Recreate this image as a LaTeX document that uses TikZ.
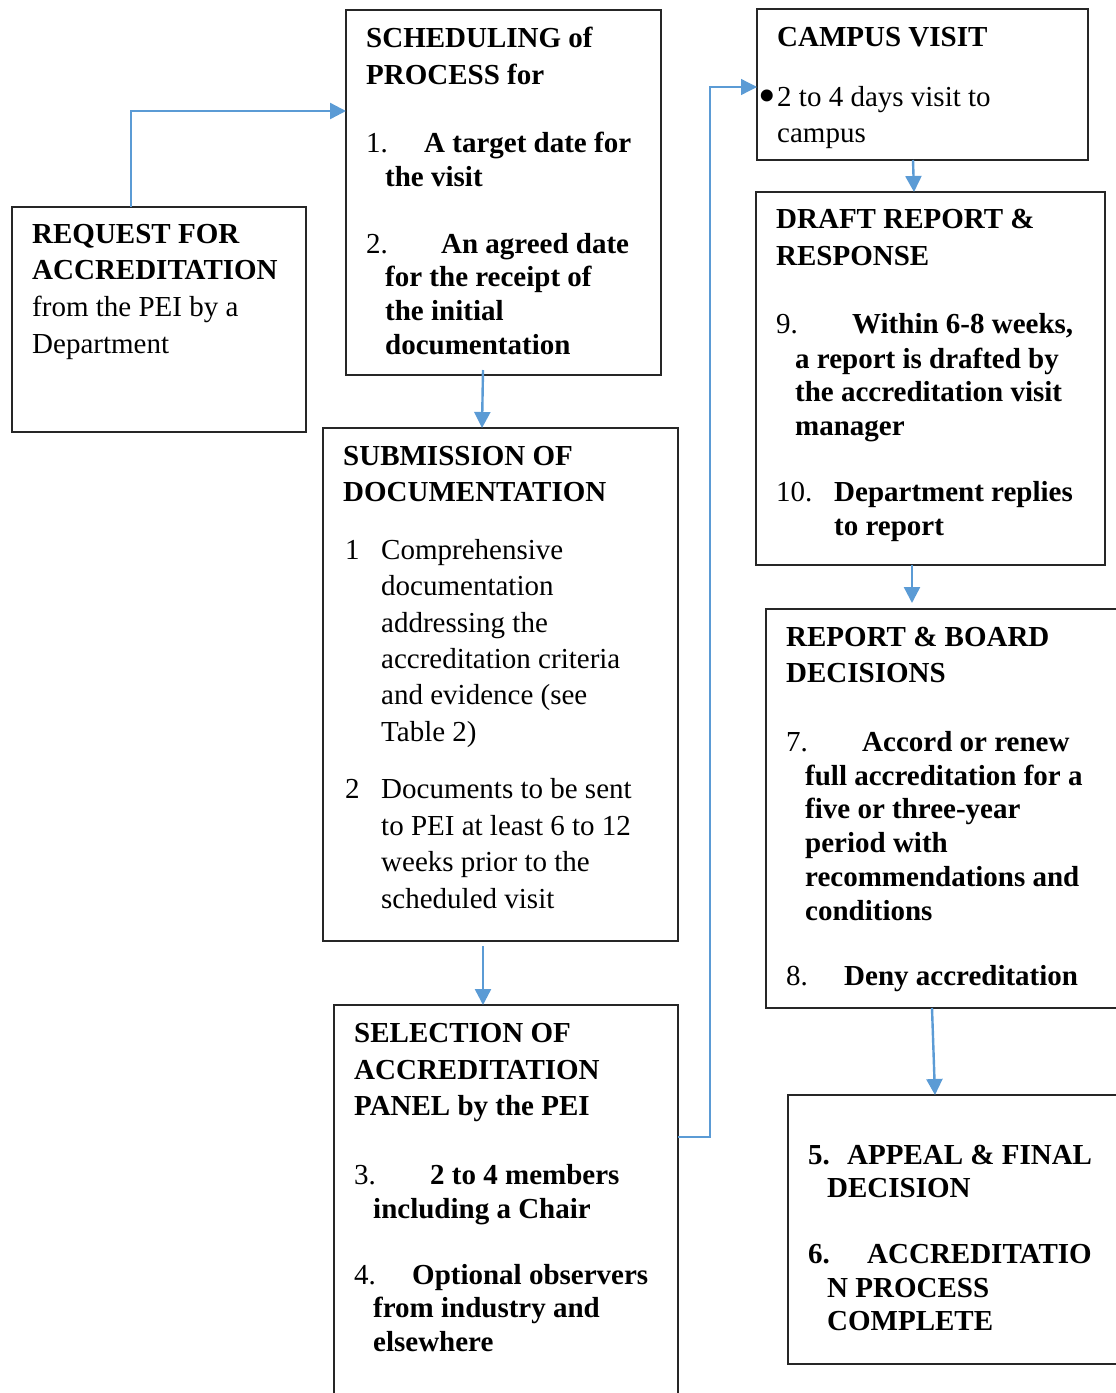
\documentclass[tikz,border=0pt]{standalone}
\usepackage{fontspec}
\setmainfont{Liberation Serif}
\usepackage{tikz}
\usetikzlibrary{arrows.meta}
\definecolor{linkblue}{RGB}{91,155,213}
\tikzset{
    box/.style={draw=black!85,line width=1.2pt,anchor=north west,inner sep=0pt,outer sep=0pt},
    txt/.style={anchor=north west,inner sep=0pt,align=left,font=\fontsize{29}{34}\selectfont},
    link/.style={draw=linkblue,line width=2.4pt,-{Triangle[length=16pt,width=16pt]}},
    thinlink/.style={draw=linkblue,line width=1.3pt,-{Triangle[length=16pt,width=16pt]}},
}

\begin{document}
\begin{tikzpicture}[x=1pt,y=-1pt]
    \useasboundingbox (0,0) rectangle (1116,1393);

    % boxes
    \node[box,minimum width=294pt,minimum height=225pt] (req) at (12,207) {};
    \node[box,minimum width=315pt,minimum height=365pt] (sched) at (346,10) {};
    \node[box,minimum width=355pt,minimum height=513pt] (subm) at (323,428) {};
    \node[box,minimum width=344pt,minimum height=400pt] (sel) at (334,1005) {};
    \node[box,minimum width=331pt,minimum height=151pt] (campus) at (757,9) {};
    \node[box,minimum width=349pt,minimum height=373pt] (draft) at (756,192) {};
    \node[box,minimum width=360pt,minimum height=399pt] (board) at (766,609) {};
    \node[box,minimum width=340pt,minimum height=269pt] (appeal) at (788,1095) {};

    % texts
    \node[txt] (reqtxt) at (32,224) {\textbf{REQUEST FOR}\\[2pt]
        \textbf{ACCREDITATION}\\[3pt]
        from the PEI by a\\[3pt]
        Department};

    \node[txt] (schedtxt) at (366,27) {\textbf{SCHEDULING of}\\[3pt]
        \textbf{PROCESS for}\\[34pt]
        \makebox[58pt][l]{1.}\textbf{A target date for}\\
        \hspace*{19pt}\textbf{the visit}\\[33pt]
        \makebox[75pt][l]{2.}\textbf{An agreed date}\\[-1pt]
        \hspace*{19pt}\textbf{for the receipt of}\\
        \hspace*{19pt}\textbf{the initial}\\
        \hspace*{19pt}\textbf{documentation}};

    \node[txt] (submtxt) at (343,446) {\textbf{SUBMISSION OF}\\[2pt]
        \textbf{DOCUMENTATION}\\[24pt]
        \makebox[38pt][l]{\hspace*{2pt}1}Comprehensive\\[2pt]
        \hspace*{38pt}documentation\\[3pt]
        \hspace*{38pt}addressing the\\[2pt]
        \hspace*{38pt}accreditation criteria\\[2pt]
        \hspace*{38pt}and evidence (see\\[3pt]
        \hspace*{38pt}Table 2)\\[23pt]
        \makebox[38pt][l]{\hspace*{2pt}2}Documents to be sent\\[3pt]
        \hspace*{38pt}to PEI at least 6 to 12\\[2pt]
        \hspace*{38pt}weeks prior to the\\[3pt]
        \hspace*{38pt}scheduled visit};

    \node[txt] (seltxt) at (354,1023) {\textbf{SELECTION OF}\\[3pt]
        \textbf{ACCREDITATION}\\[2pt]
        \textbf{PANEL by the PEI}\\[35pt]
        \makebox[76pt][l]{3.}\textbf{2 to 4 members}\\
        \hspace*{19pt}\textbf{including a Chair}\\[32pt]
        \makebox[58pt][l]{4.}\textbf{Optional observers}\\[-1pt]
        \hspace*{19pt}\textbf{from industry and}\\
        \hspace*{19pt}\textbf{elsewhere}};

    \node[txt] (campustxt) at (758,27) {\hspace*{19pt}\textbf{CAMPUS VISIT}\\[26pt]
        \makebox[19pt][l]{\raisebox{-6pt}{\fontsize{50}{34}\selectfont\textbullet}}2 to 4 days visit to\\[2pt]
        \hspace*{19pt}campus};

    \node[txt] (drafttxt) at (776,209) {\textbf{DRAFT REPORT \&}\\[3pt]
        \textbf{RESPONSE}\\[34pt]
        \makebox[76pt][l]{9.}\textbf{Within 6-8 weeks,}\\[1pt]
        \hspace*{19pt}\textbf{a report is drafted by}\\[-1pt]
        \hspace*{19pt}\textbf{the accreditation visit}\\
        \hspace*{19pt}\textbf{manager}\\[32pt]
        \makebox[58pt][l]{10.}\textbf{Department replies}\\
        \hspace*{58pt}\textbf{to report}};

    \node[txt] (boardtxt) at (786,627) {\textbf{REPORT \& BOARD}\\[2pt]
        \textbf{DECISIONS}\\[35pt]
        \makebox[76pt][l]{7.}\textbf{Accord or renew}\\
        \hspace*{19pt}\textbf{full accreditation for a}\\[-1pt]
        \hspace*{19pt}\textbf{five or three-year}\\
        \hspace*{19pt}\textbf{period with}\\
        \hspace*{19pt}\textbf{recommendations and}\\
        \hspace*{19pt}\textbf{conditions}\\[31pt]
        \makebox[58pt][l]{8.}\textbf{Deny accreditation}};

    \node[txt] (appealtxt) at (808,1145) {\makebox[39pt][l]{\textbf{5.}}\textbf{APPEAL \& FINAL}\\[-1pt]
        \hspace*{19pt}\textbf{DECISION}\\[32pt]
        \makebox[59pt][l]{\textbf{6.}}\textbf{ACCREDITATIO}\\
        \hspace*{19pt}\textbf{N PROCESS}\\[-1pt]
        \hspace*{19pt}\textbf{COMPLETE}};

    % connectors
    \draw[link] ([xshift=-28pt]req.north) |- ([yshift=81.5pt]sched.west);
    \draw[link] ([shift={(-20.5pt,5pt)}]sched.south) -- ([xshift=-18.5pt]subm.north);
    \draw[link] ([shift={(-17.5pt,-5pt)}]subm.south) -- ([xshift=-23pt]sel.north);
    \draw[thinlink] ([yshift=68pt]sel.east) -| ([shift={(-47pt,-2.5pt)}]campus.west) -- ([yshift=-2.5pt]campus.west);
    \draw[link] ([xshift=-9.5pt]campus.south) -- ([xshift=-16.5pt]draft.north);
    \draw[link] ([xshift=-18.5pt]draft.south) -- ([shift={(-34pt,6pt)}]board.north);
    \draw[link] ([xshift=-14pt]board.south) -- ([xshift=-23pt]appeal.north);
\end{tikzpicture}
\end{document}
